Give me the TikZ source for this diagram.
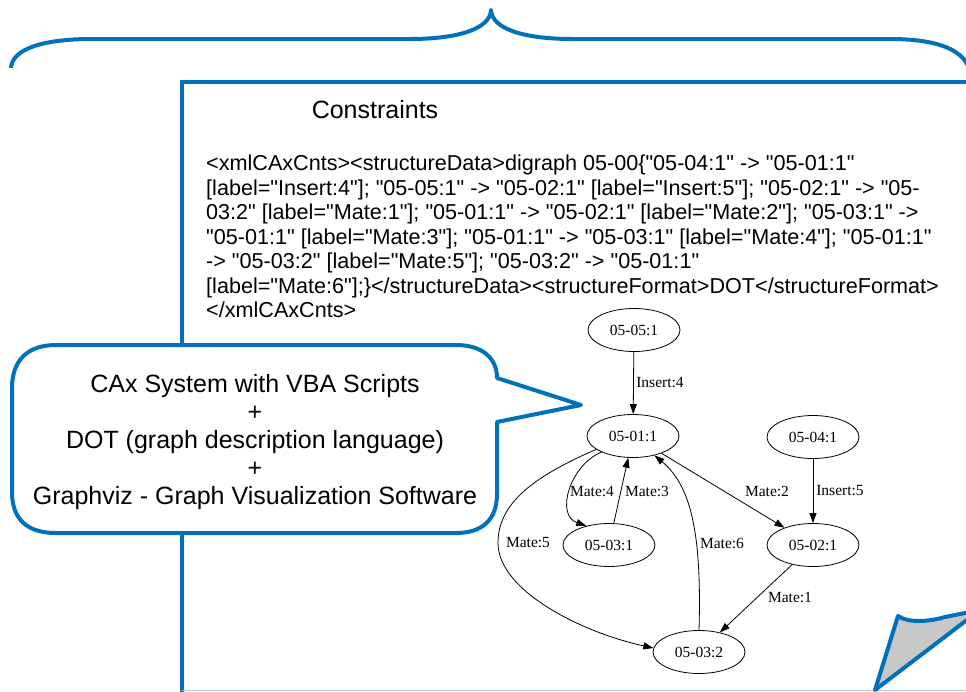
\documentclass[tikz,border=0pt]{standalone}
\usepackage{fontspec}
\setmainfont{Liberation Sans}[Ligatures=TeXOff]
\newfontfamily\gvfont{Liberation Serif}[Ligatures=TeXOff]
\usetikzlibrary{shapes.geometric,arrows.meta}
\definecolor{cblue}{RGB}{0,114,188}
\definecolor{foldgray}{RGB}{200,200,200}

\begin{document}
\begin{tikzpicture}[x=1pt,y=-1pt,
  blueline/.style={draw=cblue,line width=4pt,line join=round},
  gvnode/.style={ellipse,draw,line width=0.8pt,minimum width=92pt,minimum height=43pt,inner sep=0pt,font=\gvfont\fontsize{15.5}{18}\selectfont},
  gvlabel/.style={inner sep=0pt,font=\gvfont\fontsize{15.5}{18}\selectfont},
  gvedge/.style={draw,line width=0.8pt,-{Triangle[length=10pt,width=7pt]}},
  xmlline/.style={anchor=base west,inner sep=0pt,font=\fontsize{21.6}{24.5}\selectfont},
  callline/.style={anchor=base,inner sep=0pt,font=\fontsize{25}{28}\selectfont},
]
\useasboundingbox (0,0) rectangle (966,691);
\clip (0,0) rectangle (966,691);

% curly brace across the top
\draw[blueline] (11,68) .. controls (12,50) and (40,39) .. (92,39) -- (410,39)
  .. controls (455,39) and (490,30) .. (491,10)
  .. controls (492,30) and (527,39) .. (572,39) -- (890,39)
  .. controls (942,39) and (966,52) .. (970,72);

% constraints sheet
\draw[blueline,line join=miter] (182,700) -- (182,82) -- (980,82);
\draw[cblue!35,line width=1.2pt] (182,690.4) -- (966,690.4);

\node[anchor=base,inner sep=0pt,font=\fontsize{25}{28}\selectfont] (title) at (375,118) {Constraints};

\node[xmlline] (l1) at (206,170.5) {<xmlCAxCnts><structureData>digraph 05-00\{"05-04:1" -> "05-01:1"};
\node[xmlline] (l2) at (206,195) {[label="Insert:4"]; "05-05:1" -> "05-02:1" [label="Insert:5"]; "05-02:1" -> "05-};
\node[xmlline] (l3) at (206,219.5) {03:2" [label="Mate:1"]; "05-01:1" -> "05-02:1" [label="Mate:2"]; "05-03:1" ->};
\node[xmlline] (l4) at (206,244) {"05-01:1" [label="Mate:3"]; "05-01:1" -> "05-03:1" [label="Mate:4"]; "05-01:1"};
\node[xmlline] (l5) at (206,268.5) {-> "05-03:2" [label="Mate:5"]; "05-03:2" -> "05-01:1"};
\node[xmlline] (l6) at (206,293) {[label="Mate:6"];\}</structureData><structureFormat>DOT</structureFormat>};
\node[xmlline] (l7) at (206,317.5) {</xmlCAxCnts>};

% graph
\node[gvnode] (n05) at (634,330) {05-05:1};
\node[gvnode] (n01) at (633,436) {05-01:1};
\node[gvnode] (n04) at (813,437) {05-04:1};
\node[gvnode] (n31) at (609,545) {05-03:1};
\node[gvnode] (n21) at (813,545) {05-02:1};
\node[gvnode] (n32) at (699,652) {05-03:2};

\draw[gvedge] (n05) -- (n01);
\draw[gvedge] (n04) -- (n21);
\draw[gvedge] (n01) -- (n21);
\draw[gvedge] (n21) -- (n32);
\draw[gvedge] (n31) -- (n01);
\draw[gvedge] (n01.207) .. controls (570,465) and (555,515) .. (n31.140);
\coordinate (m5) at (498,543);
\draw[gvedge] (n01.200) .. controls (530,478) and (498,505) .. (m5)
  .. controls (498,590) and (580,632) .. (n32.175);
\draw[gvedge] (n32.north) .. controls (702,530) and (690,485) .. (n01.318);

\node[gvlabel] (lI4) at (660,383) {Insert:4};
\node[gvlabel] (lI5) at (840,491) {Insert:5};
\node[gvlabel] (lM2) at (767,491) {Mate:2};
\node[gvlabel] (lM4) at (592,491) {Mate:4};
\node[gvlabel] (lM3) at (647,491) {Mate:3};
\node[gvlabel] (lM5) at (528,543) {Mate:5};
\node[gvlabel] (lM6) at (722,543) {Mate:6};
\node[gvlabel] (lM1) at (790,597) {Mate:1};

% speech bubble
\draw[blueline,fill=white] (497,422) -- (497,494)
  .. controls (497,520) and (482,533) .. (456,533) -- (56,533)
  .. controls (28,533) and (12,520) .. (12,492) -- (12,388)
  .. controls (12,360) and (28,345) .. (56,345) -- (456,345)
  .. controls (482,345) and (497,358) .. (497,378) -- (581,405) -- cycle;

\node[callline] (c1) at (255,392) {CAx System with VBA Scripts};
\node[callline] (c2) at (255,420) {+};
\node[callline] (c3) at (255,448) {DOT (graph description language)};
\node[callline] (c4) at (255,476) {+};
\node[callline] (c5) at (255,504) {Graphviz - Graph Visualization Software};

% folded corner
\draw[blueline,fill=foldgray] (875,690) -- (898,616)
  .. controls (908,623) and (928,622) .. (945,617) -- (980,610) -- cycle;
\end{tikzpicture}
\end{document}
